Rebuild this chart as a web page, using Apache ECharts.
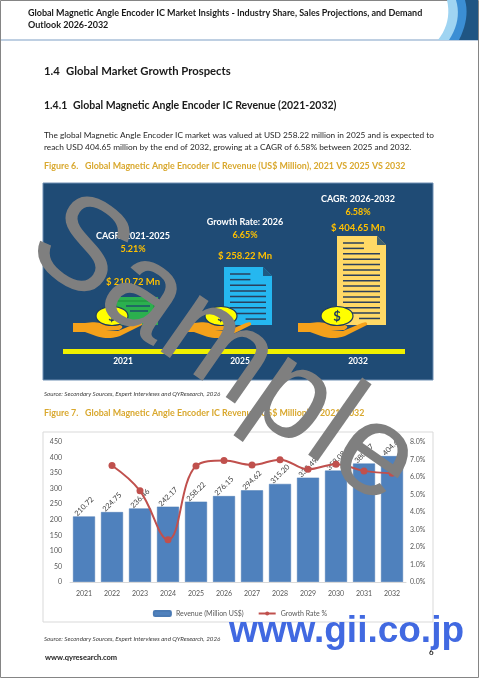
<!DOCTYPE html>
<html><head><meta charset="utf-8">
<script src="https://cdn.jsdelivr.net/npm/echarts@6.0.0/dist/echarts.min.js"></script>
<style>html,body{margin:0;padding:0;background:#fff}#c{width:480px;height:679px}</style>
</head><body><div id="c"></div>
<script>
// ---- Figure 7 data ----
const years = ['2021','2022','2023','2024','2025','2026','2027','2028','2029','2030','2031','2032'];
const revenue = [210.72,224.75,236.46,242.17,258.22,276.15,294.62,315.20,335.49,358.08,380.77,404.65];
const growthRate = [null,6.66,5.21,2.41,6.63,6.94,6.69,6.99,6.44,6.73,6.35,6.22];
const seriesNames = ['Revenue (Million US$)','Growth Rate %'];

// ---- Figure 6 data ----
const infoYears = ['2021','2025','2032'];
const infoValues = [210.72,258.22,404.65];
const infoHeads = ['CAGR: 2021-2025','Growth Rate: 2026','CAGR: 2026-2032'];
const infoRates = ['5.21%','6.65%','6.58%'];

// ---- page text ----
const headerLines = ['Global Magnetic Angle Encoder IC Market Insights - Industry Share, Sales Projections, and Demand','Outlook 2026-2032'];
const paraLines = ['The global Magnetic Angle Encoder IC market was valued at USD 258.22 million in 2025 and is expected to',
  'reach USD 404.65 million by the end of 2032, growing at a CAGR of 6.58% between 2025 and 2032.'];
const sourceText = 'Source: Secondary Sources, Expert Interviews and QYResearch, 2026';

const F = 'Lato, "Open Sans", sans-serif';
const chart = echarts.init(document.getElementById('c'));
const G = [];
function T(text, x, y, font, fill, align, z, extra) {
  G.push(Object.assign({type:'text', z: z||5, silent:true,
    style:{text, x, y, font, fill, textAlign: align||'left', align: align||'left',
      textVerticalAlign:'middle', verticalAlign:'middle'}}, extra||{}));
}
function R(x,y,w,h,style,z){G.push({type:'rect',z:z||1,silent:true,shape:{x,y,width:w,height:h},style});}
// simple M/L/Q/Z path -> polygon
function P(d,style,z){
  const tok = d.match(/[MLQZ]|-?[\d.]+/g); const pts=[]; let i=0, cur=[0,0];
  while(i<tok.length){
    const c=tok[i++];
    if(c==='M'||c==='L'){cur=[+tok[i],+tok[i+1]];i+=2;pts.push(cur);}
    else if(c==='Q'){const c1=[+tok[i],+tok[i+1]],e=[+tok[i+2],+tok[i+3]];i+=4;
      for(let t=1;t<=10;t++){const s=t/10;pts.push([(1-s)*(1-s)*cur[0]+2*(1-s)*s*c1[0]+s*s*e[0],(1-s)*(1-s)*cur[1]+2*(1-s)*s*c1[1]+s*s*e[1]]);}
      cur=e;}
    else if(c==='Z'){}
  }
  G.push({type:'polygon',z:z||3,silent:true,shape:{points:pts},style});
}
function L(x1,y1,x2,y2,style,z){G.push({type:'line',z:z||3,silent:true,shape:{x1,y1,x2,y2},style});}

// page border and header
R(0.5,0.5,478,677,{fill:'none',stroke:'#858585',lineWidth:1},0);
L(1,40,478,40,{stroke:'#a9bfd9',lineWidth:1.5},2);
P('M447,0 L478,0 L478,40 L438,40 Q452,22 447,0 Z',{fill:'#9fd4f2'},2);
P('M456,0 L478,0 L478,40 L449,40 Q462,20 456,0 Z',{fill:'#3b8ed4'},2);
P('M465,0 L478,0 L478,40 L459,40 Q470,18 465,0 Z',{fill:'#1f5583'},2);
T(headerLines[0],28,13,'bold 9px '+F,'#1a1a1a');
T(headerLines[1],28,25,'bold 9px '+F,'#1a1a1a');

T('1.4',44,71,'bold 11.3px '+F,'#1a1a1a');
T('Global Market Growth Prospects',66,71,'bold 11.3px '+F,'#1a1a1a');
T('1.4.1',44,106,'bold 10.5px '+F,'#1a1a1a');
T('Global Magnetic Angle Encoder IC Revenue (2021-2032)',73,106,'bold 10.5px '+F,'#1a1a1a');
T(paraLines[0],44,135,'8.3px '+F,'#262626');
T(paraLines[1],44,147,'8.3px '+F,'#262626');
T('Figure 6.',44,166,'bold 8.9px '+F,'#d9a82e');
T('Global Magnetic Angle Encoder IC Revenue (US$ Million), 2021 VS 2025 VS 2032',85,166,'bold 8.9px '+F,'#d9a82e');
T(sourceText,44,394,'italic 6.2px '+F,'#404040');
T('Figure 7.',44,413,'bold 8.9px '+F,'#d9a82e');
T('Global Magnetic Angle Encoder IC Revenue (US$ Million) & 2021-2032',85,413,'bold 8.9px '+F,'#d9a82e');
T(sourceText,44,639,'italic 6.2px '+F,'#404040');
T('www.qyresearch.com',45,658,'bold 7.5px '+F,'#1a1a1a');
T('6',429,652,'bold 8px '+F,'#1a1a1a');

// Figure 6 infographic
R(43,183,390,197,{fill:'#1f4b75',stroke:'#6f8fb3',lineWidth:1},1);
R(63,349,342,5,{fill:'#f0f000'},3);
const colX = [123,240,358];
const headY = [236,222,199];
const iconTop = [297,267,236];
const iconX = [[112,158],[224,272],[337,386]];
const coinX = [112,221,337];
for (let i=0;i<3;i++){
  const hy = headY[i], cx = colX[i] + (i===0?10:(i===1?5:0));
  T(infoHeads[i],cx,hy,'bold 9px '+F,'#ffffff','center',5);
  T(infoRates[i],cx,hy+13,'bold 9px '+F,'#ffc000','center',5);
  T('$ '+infoValues[i].toFixed(2)+' Mn',cx,hy+(i===0?46:(i===1?34:29)),'bold 9.5px '+F,'#ffc000','center',5);
  T(infoYears[i],colX[i],361,'bold 8.5px '+F,'#ffffff','center',5);
  const x0 = iconX[i][0], x1 = iconX[i][1], top = iconTop[i], bot = 325;
  if (i===0){
    R(x0,top,x1-x0,bot-top,{fill:'#2bb04e'},3);
    R(x0+4,top+4,x1-x0-8,bot-top-8,{fill:'none',stroke:'#1f8a3b',lineWidth:1},3);
    L(x0+14,top+9,x1-8,top+9,{stroke:'#1e4a6e',lineWidth:1.4},3);
    L(x0+18,top+14,x1-10,top+14,{stroke:'#1e4a6e',lineWidth:1.4},3);
  } else {
    const fc = i===1?'#25b7f0':'#ffd966';
    const fold = 9;
    P(`M${x0},${top} L${x1-fold},${top} L${x1},${top+fold} L${x1},${bot} L${x0},${bot} Z`,{fill:fc},3);
    P(`M${x1-fold},${top} L${x1},${top+fold} L${x1-fold},${top+fold} Z`,{fill:'#1e4a6e',opacity:0.85},3);
    const n = i===1?9:15;
    for (let k=0;k<n;k++){
      const y = top+7+k*((bot-top-12)/(n-1)*0.98);
      let a = x0+6, b = x1-6;
      if (k<2) b = x0+(x1-x0)*0.55;
      if (k===n-1) { a = x0+(x1-x0)*0.45; }
      L(a,y,b,y,{stroke:'#2a3f5c',lineWidth:1.5},3);
    }
  }
  const c = coinX[i];
  P(`M${c-39},323 L${c-27},323 Q${c-15},321 ${c-4},325 L${c+8},325 Q${c+13},327 ${c+7},330 L${c-6},330 L${c+6},331 L${c+25},323 Q${c+31},321 ${c+30},325 L${c+8},336 Q${c-4},340 ${c-16},336 L${c-27},332 L${c-39},332 Z`,{fill:'#f5a11a'},4);
  G.push({type:'ellipse',z:4,silent:true,shape:{cx:c,cy:316,rx:16,ry:9.5},style:{fill:'#ffff00',stroke:'#1e3a5f',lineWidth:1.2}});
  T('$',c,316.5,'bold 13px '+F,'#1e3a5f','center',5);
}

// Figure 7 frame (no fill so axis labels stay visible)
R(43,432,390,190,{fill:'none',stroke:'#d9d9d9',lineWidth:1},0);

// watermarks
G.push({type:'text',z:100,silent:true,x:224,y:352,rotation:-35*Math.PI/180,
  style:{text:'Sample',x:0,y:0,font:'130px "Liberation Sans", Arial, sans-serif',fill:'#7f7f7f',
    textAlign:'center',align:'center',textVerticalAlign:'middle',verticalAlign:'middle'}});
T('www.gii.co.jp',229,632,'bold 37px "Liberation Sans", Arial, sans-serif','#4169e1','left',100);

const axisLbl = {fontSize:7, color:'#595959', fontFamily:F};
chart.setOption({
  animation:false,
  backgroundColor:'#ffffff',
  graphic:{elements:G},
  grid:{left:70,right:74,top:442,bottom:97},
  legend:{top:605,left:'center',itemWidth:17,itemHeight:5,itemGap:14,
    textStyle:{fontSize:7,color:'#595959',fontFamily:F},data:seriesNames},
  xAxis:{type:'category',data:years,axisTick:{show:false},z:10,
    axisLine:{lineStyle:{color:'#d9d9d9'}},axisLabel:Object.assign({margin:8},axisLbl)},
  yAxis:[
    {type:'value',min:0,max:450,interval:50,z:10,splitLine:{show:false},axisLine:{show:false},axisTick:{show:false},
      axisLabel:Object.assign({margin:8},axisLbl)},
    {type:'value',min:0,max:8,interval:1,z:10,splitLine:{show:false},axisLine:{show:false},axisTick:{show:false},
      axisLabel:Object.assign({margin:4,formatter:v=>v.toFixed(1)+'%'},axisLbl)}
  ],
  series:[
    {name:seriesNames[0],type:'bar',data:revenue,barWidth:22,z:2,
      itemStyle:{color:'#4f81bd',borderColor:'#4a7ab4',borderWidth:0.5},
      label:{show:true,position:'top',distance:10,rotate:45,align:'center',verticalAlign:'middle',
        fontSize:7.5,color:'#404040',fontFamily:F,formatter:p=>p.value.toFixed(2)}},
    {name:seriesNames[1],type:'line',yAxisIndex:1,data:growthRate,smooth:0.4,z:4,
      symbol:'circle',symbolSize:7,lineStyle:{color:'#c0504d',width:2},itemStyle:{color:'#c0504d'}}
  ]
});
</script></body></html>
